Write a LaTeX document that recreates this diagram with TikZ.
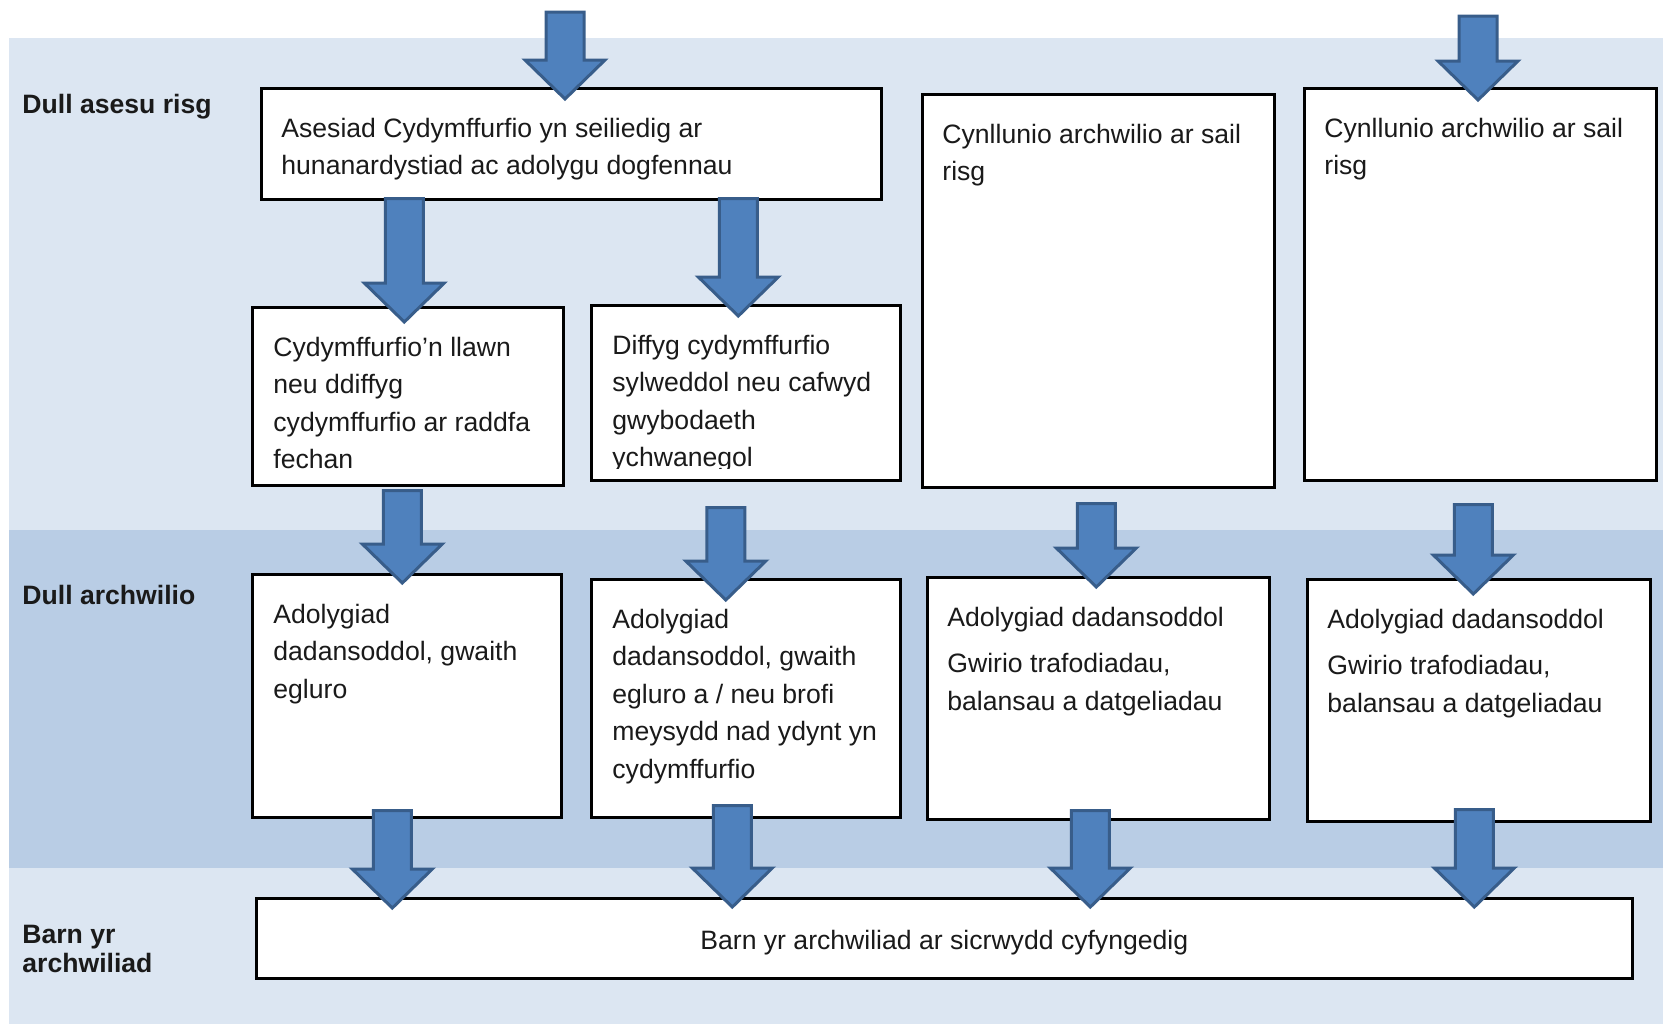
\documentclass[tikz,border=0pt]{standalone}
\usepackage{fontspec}
\setmainfont{Liberation Sans}
\usetikzlibrary{calc}
\definecolor{bandlight}{HTML}{DCE6F2}
\definecolor{banddark}{HTML}{B9CDE5}
\definecolor{arrowfill}{HTML}{4F81BD}
\definecolor{arrowline}{HTML}{385D8A}
\definecolor{textgray}{HTML}{1A1A1A}
\newcommand{\bodyfont}{\fontsize{13.3pt}{18.7pt}\selectfont}
\newcommand{\lines}[1]{\begin{tabular}[t]{@{}l@{}}#1\end{tabular}}
% block arrow: shaft top from #1, tip height from #2
\newcommand{\flowarrow}[2]{%
  \path[flow] let \p1=#1, \p2=#2 in
    (\x1-9.5pt,\y1) -- (\x1+9.5pt,\y1) -- (\x1+9.5pt,\y2+19.5pt) -- (\x1+20pt,\y2+19.5pt)
    -- (\x1,\y2) -- (\x1-20pt,\y2+19.5pt) -- (\x1-9.5pt,\y2+19.5pt) -- cycle;}
\tikzset{
  box/.style={draw, fill=white, line width=1.3pt, anchor=north west, inner sep=0},
  txt/.style={anchor=base west, inner sep=0, font=\bodyfont, text=textgray},
  rowlabel/.style={anchor=base west, inner sep=0, font=\fontsize{13.3pt}{14.5pt}\selectfont\bfseries, text=textgray},
  flow/.style={fill=arrowfill, draw=arrowline, line width=1.5pt, line join=miter}
}
\begin{document}
\begin{tikzpicture}[x=0.5pt,y=-0.5pt]
  \useasboundingbox (0,0) rectangle (1663,1024);
  % bands
  \fill[bandlight] (9,38) rectangle (1663,530);
  \fill[banddark] (9,530) rectangle (1663,868);
  \fill[bandlight] (9,868) rectangle (1663,1024);
  \node[rowlabel] (lrisk) at (22,113) {Dull asesu risg};
  \node[rowlabel] (laudit) at (22,604) {Dull archwilio};
  \node[rowlabel] (lopinion) at (22,943) {\lines{Barn yr\\archwiliad}};
  % top row
  \node[box, minimum width=310pt, minimum height=55.5pt] (b1) at (260,87) {};
  \node[box, minimum width=155.5pt, minimum height=89pt] (b2) at (251,306) {};
  \node[box, minimum width=154.5pt, minimum height=87.5pt] (b3) at (590,304) {};
  \node[box, minimum width=176pt, minimum height=196.5pt] (b4) at (921,93) {};
  \node[box, minimum width=176pt, minimum height=196pt] (b5) at (1303,87) {};
  \node[txt] (t1) at ([xshift=10.5pt,yshift=-25.25pt]b1.north west)
    {\lines{Asesiad Cydymffurfio yn seiliedig ar\\hunanardystiad ac adolygu dogfennau}};
  \node[txt] (t2) at ([xshift=11pt,yshift=-25.25pt]b2.north west)
    {\lines{Cydymffurfio’n llawn\\neu ddiffyg\\cydymffurfio ar raddfa\\fechan}};
  \begin{scope}
    \clip (b3.north west) rectangle ([yshift=6.5pt]b3.south east);
    \node[txt] (t3) at ([xshift=11pt,yshift=-25.25pt]b3.north west)
      {\lines{Diffyg cydymffurfio\\sylweddol neu cafwyd\\gwybodaeth\\ychwanegol}};
  \end{scope}
  \node[txt] (t4) at ([xshift=10.5pt,yshift=-25.25pt]b4.north west)
    {\lines{Cynllunio archwilio ar sail\\risg}};
  \node[txt] (t5) at ([xshift=10.5pt,yshift=-25.25pt]b5.north west)
    {\lines{Cynllunio archwilio ar sail\\risg}};
  % middle row
  \node[box, minimum width=154.5pt, minimum height=121.5pt] (a1) at (251,573) {};
  \node[box, minimum width=154.5pt, minimum height=119pt] (a2) at (590,578) {};
  \node[box, minimum width=171pt, minimum height=121pt] (a3) at (926,576) {};
  \node[box, minimum width=171.5pt, minimum height=121pt] (a4) at (1306,578) {};
  \node[txt] (s1) at ([xshift=11pt,yshift=-25.25pt]a1.north west)
    {\lines{Adolygiad\\dadansoddol, gwaith\\egluro}};
  \node[txt] (s2) at ([xshift=11pt,yshift=-25.25pt]a2.north west)
    {\lines{Adolygiad\\dadansoddol, gwaith\\egluro a / neu brofi\\meysydd nad ydynt yn\\cydymffurfio}};
  \node[txt] (s3) at ([xshift=10.5pt,yshift=-25.25pt]a3.north west)
    {\lines{Adolygiad dadansoddol\\[4.5pt]Gwirio trafodiadau,\\balansau a datgeliadau}};
  \node[txt] (s4) at ([xshift=10.5pt,yshift=-25.25pt]a4.north west)
    {\lines{Adolygiad dadansoddol\\[4.5pt]Gwirio trafodiadau,\\balansau a datgeliadau}};
  % bottom row
  \node[box, minimum width=688pt, minimum height=40pt, font=\bodyfont, text=textgray] (bar) at (255,897)
    {\raisebox{-5.7pt}[0pt][0pt]{Barn yr archwiliad ar sicrwydd cyfyngedig}};
  % arrows
  \coordinate (in1) at (565,12);
  \coordinate (in2) at (1478,16);
  \flowarrow{(in1)}{([yshift=-6pt]b1.north)}
  \flowarrow{(in2)}{([yshift=-6.5pt]b5.north)}
  \flowarrow{([xshift=-83.5pt,yshift=1pt]b1.south)}{([yshift=-8pt]b2.north)}
  \flowarrow{([xshift=83.5pt,yshift=1pt]b1.south)}{([yshift=-6pt]b3.north)}
  \flowarrow{([xshift=-2.75pt,yshift=-2pt]b2.south)}{([yshift=-5pt]a1.north)}
  \flowarrow{([xshift=-10pt,yshift=-13pt]b3.south)}{([yshift=-11pt]a2.north)}
  \flowarrow{([xshift=-1pt,yshift=-7.5pt]b4.south)}{([yshift=-5.5pt]a3.north)}
  \flowarrow{([xshift=-3.5pt,yshift=-11.5pt]b5.south)}{([yshift=-8pt]a4.north)}
  \flowarrow{([xshift=-7.25pt,yshift=4pt]a1.south)}{([yshift=-5.5pt]bar.north)}
  \flowarrow{([xshift=-6.75pt,yshift=6.5pt]a2.south)}{([yshift=-5pt]bar.north)}
  \flowarrow{([xshift=-4pt,yshift=5pt]a3.south)}{([yshift=-5pt]bar.north)}
  \flowarrow{([xshift=-2.25pt,yshift=6.5pt]a4.south)}{([yshift=-5pt]bar.north)}
\end{tikzpicture}
\end{document}
